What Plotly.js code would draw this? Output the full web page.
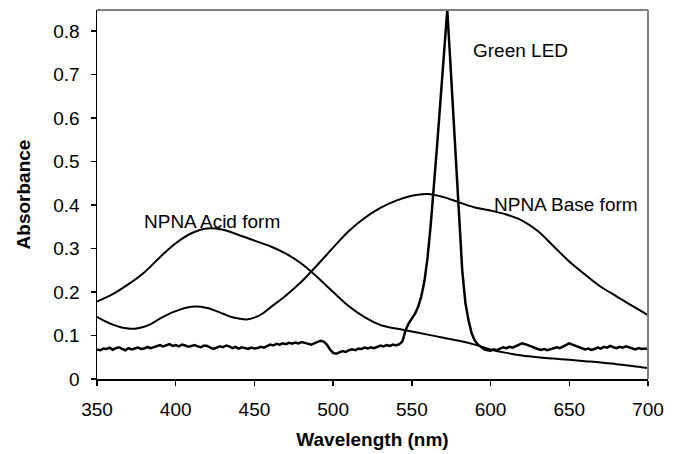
<!DOCTYPE html>
<html>
<head>
<meta charset="utf-8">
<script src="https://cdn.plot.ly/plotly-3.0.1.min.js"></script>
<style>html,body{margin:0;padding:0;background:#fff;}#chart{width:680px;height:454px;}</style>
</head>
<body>
<div id="chart"></div>
<script>
// NPNA acid form spectrum
const acidWavelength = [350,360,370,380,390,400,410,420,430,440,450,460,470,480,490,500,510,520,530,540,550,560,570,580,590,600,610,620,630,640,650,660,670,680,690,700];
const acidAbsorbance = [0.178,0.195,0.218,0.245,0.280,0.312,0.335,0.346,0.343,0.331,0.318,0.305,0.288,0.265,0.234,0.200,0.167,0.142,0.124,0.116,0.109,0.102,0.095,0.088,0.079,0.068,0.060,0.054,0.050,0.047,0.044,0.041,0.038,0.034,0.030,0.025];

// NPNA base form spectrum
const baseWavelength = [350,355,360,365,370,375,380,385,390,400,410,420,430,435,440,445,450,455,460,470,480,490,500,510,520,530,540,550,560,570,580,590,600,610,620,630,640,650,660,670,680,690,700];
const baseAbsorbance = [0.143,0.133,0.125,0.119,0.116,0.116,0.120,0.128,0.139,0.156,0.166,0.163,0.150,0.143,0.139,0.137,0.141,0.150,0.164,0.192,0.224,0.262,0.302,0.340,0.370,0.393,0.410,0.421,0.425,0.418,0.406,0.394,0.387,0.378,0.364,0.340,0.305,0.270,0.240,0.212,0.190,0.168,0.147];

// Green LED emission
const ledWavelength = [
350,352,354,356,358,360,362,364,366,368,370,372,374,376,378,380,382,384,386,388,390,392,394,396,398,400,
402,404,406,408,410,412,414,416,418,420,422,424,426,428,430,432,434,436,438,440,442,444,446,448,450,
452,454,456,458,460,462,464,466,468,470,472,474,476,478,480,482,484,486,488,490,492,494,496,498,500,
502,504,506,508,510,512,514,516,518,520,522,524,526,528,530,532,534,536,538,540,542,544,
546,548,550,552,554,556,558,560,562,564,566,568,570,572,572.5,574,576,578,580,582,584,586,588,590,592,594,596,598,600,
602,604,606,608,610,612,614,616,618,620,622,624,626,628,630,632,634,636,638,640,642,644,646,648,650,
652,654,656,658,660,662,664,666,668,670,672,674,676,678,680,682,684,686,688,690,692,694,696,698,700];
const ledAbsorbance = [
0.068,0.066,0.070,0.069,0.072,0.067,0.071,0.073,0.069,0.066,0.071,0.068,0.070,0.072,0.069,0.070,0.074,0.071,0.073,0.076,0.078,0.075,0.077,0.080,0.076,0.078,
0.075,0.079,0.077,0.074,0.076,0.078,0.075,0.073,0.077,0.076,0.072,0.069,0.072,0.075,0.073,0.077,0.075,0.071,0.074,0.070,0.073,0.071,0.069,0.072,0.070,
0.071,0.074,0.072,0.076,0.079,0.077,0.081,0.079,0.082,0.080,0.083,0.081,0.084,0.082,0.085,0.083,0.081,0.079,0.082,0.085,0.088,0.086,0.079,0.068,0.060,
0.058,0.061,0.064,0.062,0.066,0.068,0.066,0.070,0.069,0.072,0.070,0.073,0.071,0.074,0.077,0.075,0.078,0.076,0.079,0.077,0.080,0.086,
0.112,0.128,0.140,0.150,0.166,0.190,0.225,0.280,0.355,0.440,0.535,0.631,0.727,0.823,0.848,0.756,0.634,0.510,0.385,0.250,0.175,0.135,0.105,0.088,0.079,0.073,0.068,0.066,0.065,
0.068,0.066,0.070,0.073,0.071,0.074,0.072,0.075,0.078,0.082,0.080,0.077,0.074,0.071,0.069,0.067,0.069,0.066,0.068,0.071,0.073,0.071,0.075,0.078,0.082,
0.079,0.076,0.073,0.070,0.068,0.070,0.067,0.069,0.072,0.070,0.074,0.072,0.076,0.073,0.071,0.074,0.072,0.075,0.073,0.070,0.068,0.071,0.069,0.070,0.069];

const xTicks = [350,400,450,500,550,600,650,700];
const yTicks = [0,0.1,0.2,0.3,0.4,0.5,0.6,0.7,0.8];
const yTickLabels = ['0','0.1','0.2','0.3','0.4','0.5','0.6','0.7','0.8'];
const labels = ['NPNA Acid form','Green LED','NPNA Base form'];

const font = 'Liberation Sans, Arial, sans-serif';

const traces = [
  {x: acidWavelength, y: acidAbsorbance, type:'scatter', mode:'lines', line: {color:'#000', width:2, shape:'spline', smoothing:1}},
  {x: baseWavelength, y: baseAbsorbance, type:'scatter', mode:'lines', line: {color:'#000', width:2, shape:'spline', smoothing:1}},
  {x: ledWavelength, y: ledAbsorbance, type:'scatter', mode:'lines', line: {color:'#000', width:2.5}}
];

const layout = {
  width:680, height:454,
  margin:{l:97, r:32, t:10, b:75},
  paper_bgcolor:'#fff', plot_bgcolor:'#fff',
  showlegend:false,
  font:{family:font, color:'#000', size:19},
  xaxis:{
    range:[350,700], tickvals:xTicks, ticktext:xTicks.map(String),
    showgrid:false, zeroline:false, showline:true, linecolor:'#000', linewidth:1.5,
    ticks:'outside', ticklen:5, tickwidth:1.5, tickcolor:'#000', ticklabelstandoff:8,
    tickfont:{family:font, size:19, color:'#000'},
    automargin:false,
    title:{text:'<b>Wavelength (nm)</b>', font:{family:font, size:19, color:'#000'}, standoff:13}
  },
  yaxis:{
    range:[0,0.848], tickvals:yTicks, ticktext:yTickLabels,
    showgrid:false, zeroline:false, showline:true, linecolor:'#000', linewidth:1.5,
    ticks:'outside', ticklen:5, tickwidth:1.5, tickcolor:'#000', ticklabelstandoff:7,
    tickfont:{family:font, size:19, color:'#000'},
    automargin:false,
    title:{text:'<b>Absorbance</b>', font:{family:font, size:19, color:'#000'}, standoff:17}
  },
  shapes:[
    {type:'line', xref:'paper', yref:'paper', x0:0, x1:1, y0:1, y1:1, line:{color:'#808080', width:2}},
    {type:'line', xref:'paper', yref:'paper', x0:1, x1:1, y0:0, y1:1, line:{color:'#808080', width:2}}
  ],
  annotations:[
    {x:423, y:0.362, xref:'x', yref:'y', text:labels[0], showarrow:false, font:{family:font, size:19, color:'#000'}},
    {x:587.6, y:0.756, xref:'x', yref:'y', text:labels[1], showarrow:false, xanchor:'left', font:{family:font, size:19, color:'#000'}},
    {x:648, y:0.40, xref:'x', yref:'y', text:labels[2], showarrow:false, font:{family:font, size:19, color:'#000'}}
  ]
};

Plotly.newPlot('chart', traces, layout, {staticPlot:true, displayModeBar:false});
</script>
</body>
</html>
